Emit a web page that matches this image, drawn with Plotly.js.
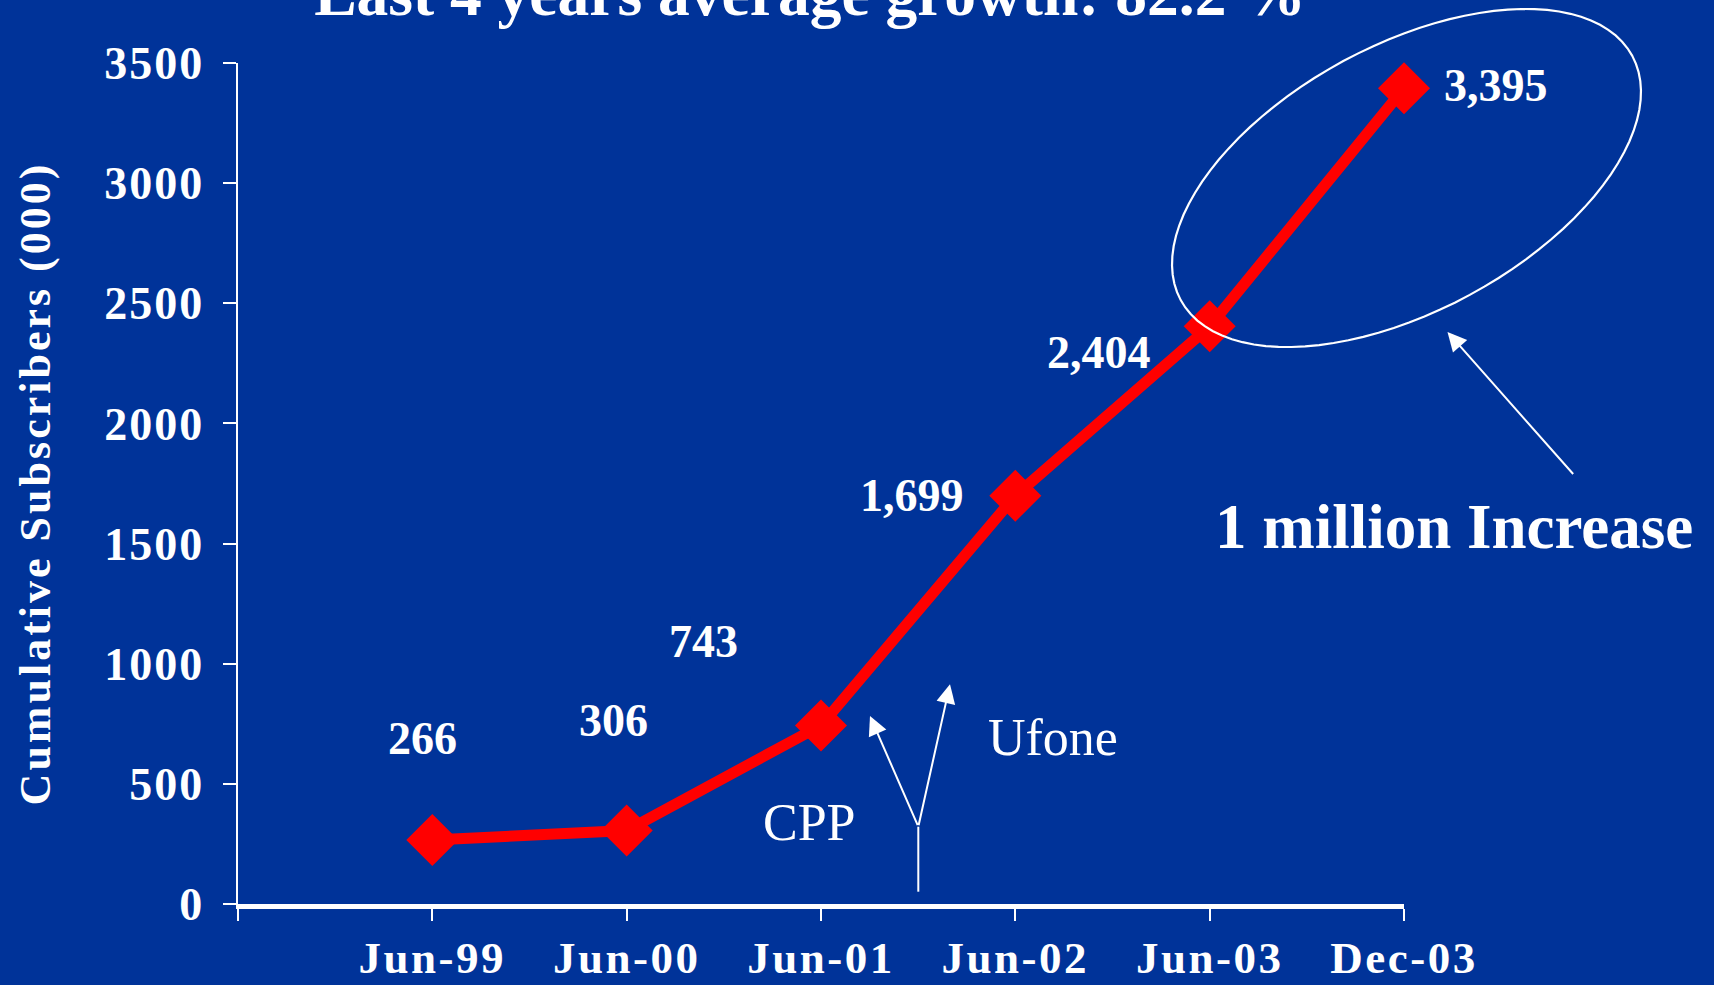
<!DOCTYPE html>
<html><head><meta charset="utf-8">
<script src="https://cdn.plot.ly/plotly-3.0.1.min.js"></script>
<style>
html,body{margin:0;padding:0;background:#003399;overflow:hidden;}
#chart{width:1714px;height:985px;}
.ytitle{letter-spacing:3px;}
.xtick text{letter-spacing:2.5px;}
.ytick text{letter-spacing:2px;}
</style>
</head><body><div id="chart"></div>
<script>
// ---- data ----
const categories = ['Jun-99','Jun-00','Jun-01','Jun-02','Jun-03','Dec-03'];
const subscribers = [266, 306, 743, 1699, 2404, 3395];
const valueLabels = ['266','306','743','1,699','2,404','3,395'];
const yTickValues = [0,500,1000,1500,2000,2500,3000,3500];
const chartTitle = 'Last 4 years average growth: 82.2 %';
const yTitle = 'Cumulative Subscribers (000)';

// ---- label offsets (px) ----
const labelShiftX = [-10,-13,-118,-103,-111,92];
const labelShiftY = [102,110,84,0,-26,3];

const W=1714,H=985;
const M={l:238,r:310,t:63,b:81};
const PW=W-M.l-M.r, PH=H-M.t-M.b;
function px(x){return (x-M.l)/PW;}
function py(y){return (H-M.b-y)/PH;}
const FONT='"Liberation Serif","Times New Roman",serif';

const xIdx = categories.map((c,i)=>i);

// rotated ellipse path
const ec={x:1406.5,y:178}, ea=256.7, eb=132.9, eth=28.4*Math.PI/180;
let d='';
for(let i=0;i<=96;i++){
  const t=i/96*2*Math.PI;
  const X=ec.x+ea*Math.cos(t)*Math.cos(eth)-eb*Math.sin(t)*Math.sin(eth);
  const Y=ec.y-(ea*Math.cos(t)*Math.sin(eth)+eb*Math.sin(t)*Math.cos(eth));
  d+=(i?'L':'M')+px(X).toFixed(5)+','+py(Y).toFixed(5);
}
d+='Z';

const annotations = subscribers.map((v,i)=>({
  x:xIdx[i], y:v, xref:'x', yref:'y', text:valueLabels[i], showarrow:false,
  xanchor:'center', yanchor:'middle',
  xshift:labelShiftX[i], yshift:labelShiftY[i],
  font:{family:FONT,size:46,color:'white',weight:'bold'}
}));

function arrow(hx,hy,tx,ty){
  return {xref:'paper',yref:'paper',x:px(hx),y:py(hy),ax:tx-hx,ay:ty-hy,
    axref:'pixel',ayref:'pixel',text:'',showarrow:true,arrowhead:2,arrowsize:1.9,
    arrowwidth:2,arrowcolor:'white',standoff:0,startstandoff:0};
}
function label(cx,cy,txt,size,bold){
  return {xref:'paper',yref:'paper',x:px(cx),y:py(cy),xanchor:'center',yanchor:'middle',
    text:txt,showarrow:false,font:{family:FONT,size:size,color:'white',weight:bold?'bold':'normal'}};
}
annotations.push(arrow(870,716,918.3,826.7));
annotations.push(arrow(950,684.3,918.3,826.7));
annotations.push(arrow(1447.5,332,1574.5,475.5));
annotations.push(label(809,822.5,'CPP',52,false));
annotations.push(label(1053,737.5,'Ufone',52,false));
annotations.push(label(1454,527,'1 million Increase',63,true));

const shapes = [
  {type:'path',xref:'paper',yref:'paper',path:d,line:{color:'white',width:2.2}},
  {type:'line',xref:'paper',yref:'paper',x0:px(918.3),x1:px(918.3),y0:py(891.7),y1:py(826.7),line:{color:'white',width:2}}
];

const trace = {
  x:xIdx, y:subscribers, type:'scatter', mode:'lines+markers',
  line:{color:'#ff0000',width:11},
  marker:{symbol:'diamond',size:40,color:'#ff0000'},
  cliponaxis:false,
  hoverinfo:'skip'
};

const layout = {
  width:W,height:H,
  margin:M,
  paper_bgcolor:'#003399',plot_bgcolor:'#003399',
  showlegend:false,
  title:{text:chartTitle,font:{family:FONT,size:63.5,color:'white',weight:'bold'},
    x:810/W,xanchor:'center',xref:'container',y:1-15/H,yref:'container',yanchor:'bottom'},
  xaxis:{type:'linear',range:[-1,5],tickmode:'array',tickvals:[-1].concat(xIdx),
    ticktext:[''].concat(categories),ticks:'outside',ticklen:12,tickwidth:2,tickcolor:'white',
    showline:true,linecolor:'white',linewidth:4.5,showgrid:false,zeroline:false,
    ticklabelstandoff:-2,
    tickfont:{family:FONT,size:45,color:'white',weight:'bold'},automargin:false},
  yaxis:{range:[0,3500],tickmode:'array',tickvals:yTickValues,ticks:'outside',ticklen:13,tickwidth:2,
    tickcolor:'white',showline:true,linecolor:'white',linewidth:2.5,showgrid:false,zeroline:false,
    ticklabelstandoff:9,
    tickfont:{family:FONT,size:46,color:'white',weight:'bold'},
    title:{text:yTitle,font:{family:FONT,size:44,color:'white',weight:'bold'},standoff:40},
    automargin:false},
  shapes:shapes,
  annotations:annotations
};
Plotly.newPlot('chart',[trace],layout,{displayModeBar:false,staticPlot:true});
</script>
</body></html>
